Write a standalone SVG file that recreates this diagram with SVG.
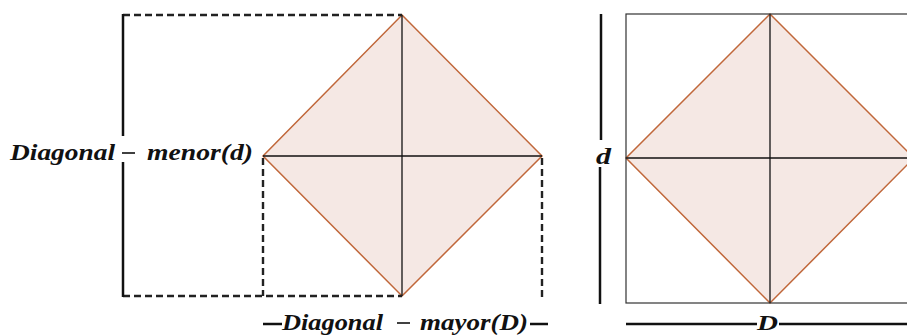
<svg xmlns="http://www.w3.org/2000/svg" width="907" height="335" viewBox="0 0 907 335">
<style>
.bg{fill:#ffffff}
.rh{fill:#f5e8e4;stroke:#c0673a;stroke-width:1.5;stroke-linejoin:miter}
.ax{stroke:#111;stroke-width:1.3;fill:none}
.dash{stroke:#222;stroke-width:2.4;stroke-dasharray:7 4;fill:none}
.solid{stroke:#111;stroke-width:2.5;fill:none}
.box{stroke:#333;stroke-width:1.2;fill:none}
.lbl{font-family:"Liberation Serif","DejaVu Serif",serif;font-weight:bold;font-style:italic;font-size:24px;fill:#111}
.sm{font-size:20px}
.mn{stroke:#111;stroke-width:1.6}
</style>
<rect class="bg" x="0" y="0" width="907" height="335"/>

<g id="left-figure">
  <g id="left-rhombus">
    <polygon class="rh" points="402,15 542,156 402,296 263,156"/>
    <line class="ax" x1="402" y1="15" x2="402" y2="296"/>
    <line class="ax" x1="263" y1="156" x2="542" y2="156"/>
  </g>
  <g id="left-guides">
    <path class="dash" d="M123,15 H402"/>
    <path class="dash" d="M123,296 H402"/>
    <path class="dash" d="M263,158 V296"/>
    <path class="dash" d="M542,158 V299"/>
    <path class="solid" d="M123,14 V136"/>
    <path class="solid" d="M123,162 V297"/>
    <line class="solid" x1="263" y1="324" x2="282" y2="324"/>
    <line class="solid" x1="530" y1="324" x2="548" y2="324"/>
  </g>
  <g id="left-labels">
    <text class="lbl" x="10" y="160" textLength="105" lengthAdjust="spacingAndGlyphs">Diagonal</text>
    <line class="mn" x1="122" y1="153" x2="135" y2="153"/>
    <text class="lbl" x="147" y="160" textLength="106" lengthAdjust="spacingAndGlyphs">menor(d)</text>
    <text class="lbl" x="282" y="330" textLength="101" lengthAdjust="spacingAndGlyphs">Diagonal</text>
    <line class="mn" x1="397" y1="323" x2="410" y2="323"/>
    <text class="lbl" x="420" y="330" textLength="108" lengthAdjust="spacingAndGlyphs">mayor(D)</text>
  </g>
</g>

<g id="right-figure">
  <g id="right-rhombus">
    <polygon class="rh" points="770,14 914,158 770,303 626,158"/>
    <line class="ax" x1="770" y1="14" x2="770" y2="303"/>
    <line class="ax" x1="626" y1="158" x2="914" y2="158"/>
  </g>
  <rect id="right-box" class="box" x="626" y="14" width="288" height="289"/>
  <g id="right-guides">
    <path class="solid" d="M601,14 V140"/>
    <path class="solid" d="M600,167 V304"/>
    <line class="solid" x1="626" y1="324" x2="757" y2="324"/>
    <line class="solid" x1="779" y1="324" x2="907" y2="324"/>
  </g>
  <g id="right-labels">
    <text class="lbl" x="596" y="164" textLength="15" lengthAdjust="spacingAndGlyphs">d</text>
    <text class="lbl sm" x="757" y="330" textLength="21" lengthAdjust="spacingAndGlyphs">D</text>
  </g>
</g>
</svg>
